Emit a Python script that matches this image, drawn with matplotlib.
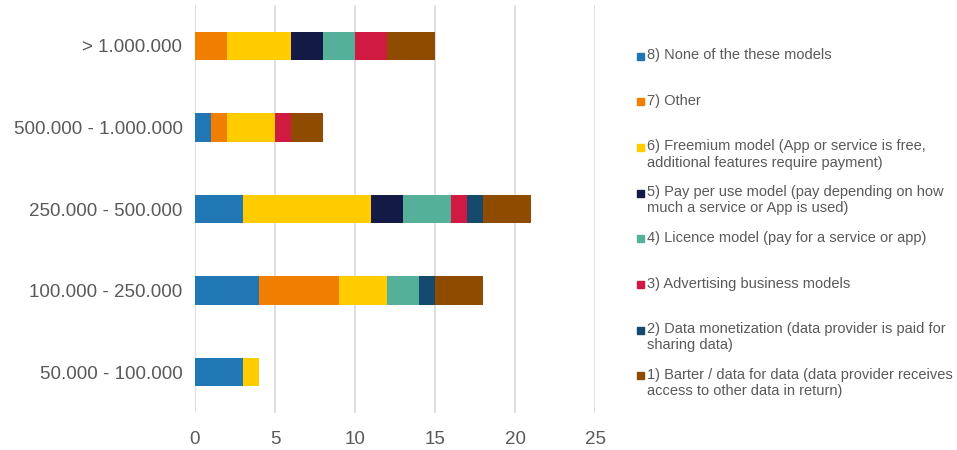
import matplotlib.pyplot as plt
from matplotlib.patches import Rectangle

categories = ["50.000 - 100.000", "100.000 - 250.000", "250.000 - 500.000",
              "500.000 - 1.000.000", "> 1.000.000"]

series_labels = [
    "8) None of the these models",
    "7) Other",
    "6) Freemium model (App or service is free,\nadditional features require payment)",
    "5) Pay per use model (pay depending on how\nmuch a service or App is used)",
    "4) Licence model (pay for a service or app)",
    "3) Advertising business models",
    "2) Data monetization (data provider is paid for\nsharing data)",
    "1) Barter / data for data (data provider receives\naccess to other data in return)",
]
colors = ["#2077b4", "#f07f00", "#ffcc00", "#131a45",
          "#55b09a", "#d01a41", "#154a6e", "#8f4b00"]

# values per series, ordered as categories (bottom to top)
none_models = [3, 4, 3, 1, 0]
other = [0, 5, 0, 1, 2]
freemium = [1, 3, 8, 3, 4]
pay_per_use = [0, 0, 2, 0, 2]
licence = [0, 2, 3, 0, 2]
advertising = [0, 0, 1, 1, 2]
data_monetization = [0, 1, 1, 0, 0]
barter = [0, 3, 3, 2, 3]
series = [none_models, other, freemium, pay_per_use,
          licence, advertising, data_monetization, barter]

text_color = "#595959"
plt.rcParams["font.family"] = ["Liberation Sans", "DejaVu Sans"]

fig = plt.figure(figsize=(9.57, 4.5), dpi=100)
ax = fig.add_axes([195 / 957, 1 - 413 / 450, 400 / 957, 408 / 450])

left = [0] * len(categories)
for vals, color in zip(series, colors):
    ax.barh(range(len(categories)), vals, left=left, height=0.35,
            color=color, linewidth=0, zorder=3)
    left = [l + v for l, v in zip(left, vals)]

ax.set_xlim(0, 25)
ax.set_ylim(-0.5, len(categories) - 0.5)
ax.set_xticks([0, 5, 10, 15, 20, 25])
ax.set_yticks(range(len(categories)))
ax.set_yticklabels(categories)
ax.grid(axis="x", color="#d9d9d9", linewidth=1.2, zorder=0)
for s in ax.spines.values():
    s.set_visible(False)
ax.tick_params(axis="both", length=0, labelsize=13.5, colors=text_color)
ax.tick_params(axis="x", pad=13)
ax.tick_params(axis="y", pad=9)

# legend drawn as a column on the right
x0, y0, step = 637 / 957, 1 - 56 / 450, 45.7 / 450
for i, (lab, color) in enumerate(zip(series_labels, colors)):
    y = y0 - i * step
    fig.patches.append(Rectangle((x0, y - 3.5 / 450), 7 / 957, 7 / 450,
                                 transform=fig.transFigure, color=color))
    fig.text(x0 + 10 / 957, y + 8 / 450, lab, fontsize=10.5, color=text_color,
             va="top", ha="left", linespacing=1.2)

fig.savefig("out.png", dpi=100)
